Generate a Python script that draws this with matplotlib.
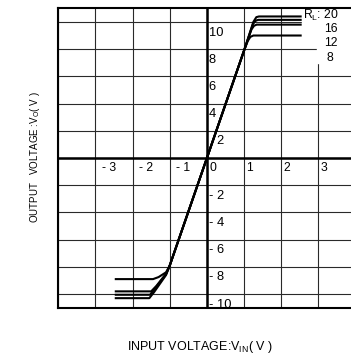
"""Amplifier transfer curve: output voltage vs input voltage for several load resistances."""

import matplotlib
matplotlib.use("Agg")
import matplotlib.pyplot as plt
from matplotlib.patches import Rectangle

plt.rcParams["font.family"] = ["Liberation Sans", "DejaVu Sans"]
plt.rcParams["mathtext.fontset"] = "custom"
plt.rcParams["mathtext.rm"] = "Liberation Sans"

# load resistance labels (ohm) and their transfer curves
RL = ["20", "16", "12", "8"]
VIN_20 = [-2.48, -1.55, -1.42, -1.10, -1.00, 0.0, 1.00, 1.25, 1.33, 1.40, 2.55]
VOUT_20 = [-10.3, -10.3, -9.85, -8.6, -7.9, 0.0, 7.9, 10.0, 10.35, 10.4, 10.4]
VIN_16 = [-2.48, -1.53, -1.40, -1.10, -1.00, 0.0, 1.00, 1.24, 1.32, 1.38, 2.55]
VOUT_16 = [-10.05, -10.05, -9.6, -8.55, -7.9, 0.0, 7.9, 9.85, 10.1, 10.15, 10.15]
VIN_12 = [-2.48, -1.50, -1.36, -1.10, -1.00, 0.0, 1.00, 1.20, 1.27, 1.34, 2.55]
VOUT_12 = [-9.8, -9.8, -9.4, -8.5, -7.9, 0.0, 7.9, 9.45, 9.72, 9.8, 9.8]
VIN_8 = [-2.48, -1.45, -1.30, -1.10, -1.00, 0.0, 1.00, 1.10, 1.17, 1.25, 2.55]
VOUT_8 = [-8.9, -8.9, -8.75, -8.4, -7.9, 0.0, 7.9, 8.6, 8.9, 9.0, 9.0]
CURVES = [(VIN_20, VOUT_20), (VIN_16, VOUT_16), (VIN_12, VOUT_12), (VIN_8, VOUT_8)]

X_TICKS = [-3, -2, -1, 0, 1, 2, 3]
X_LABELS = ["- 3", "- 2", "- 1", "0", "1", "2", "3"]
Y_TICKS = [10, 8, 6, 4, 2, -2, -4, -6, -8, -10]
Y_LABELS = ["10", "8", "6", "4", "2", "- 2", "- 4", "- 6", "- 8", "- 10"]

fig = plt.figure(figsize=(3.51, 3.56), dpi=100)
ax = fig.add_axes([0.166, 0.1357, 0.847, 0.841])
ax.set_xlim(-4, 4)
ax.set_ylim(-11, 11)

ax.set_xticks(range(-4, 5))
ax.set_yticks(range(-10, 11, 2))
ax.tick_params(length=0, labelbottom=False, labelleft=False)
ax.grid(True, color="#2a2a2a", lw=0.8)
ax.set_axisbelow(True)
for s in ["left", "bottom", "top"]:
    ax.spines[s].set_linewidth(1.5)
ax.spines["right"].set_visible(False)

ax.axhline(0, color="black", lw=1.8, zorder=1.5)
ax.axvline(0, color="black", lw=1.8, zorder=1.5)

# blank patch behind the load labels
ax.add_patch(Rectangle((2.57, 8.55), 2.0, 2.4, color="white", zorder=1))
ax.add_patch(Rectangle((2.95, 6.95), 1.6, 1.7, color="white", zorder=1))

for xs, ys in CURVES:
    ax.plot(xs, ys, color="black", lw=1.5, zorder=2, solid_capstyle="butt")

for x, lab in zip(X_TICKS, X_LABELS):
    dx = 0.17 if x < 0 else 0.06
    ax.text(x + dx, -0.72, lab, fontsize=8.7, ha="left", va="center", zorder=3)
for y, lab in zip(Y_TICKS, Y_LABELS):
    dx = 0.26 if y == 2 else 0.05
    ax.text(dx, y - 0.78, lab, fontsize=9.3, ha="left", va="center", zorder=3)

ax.text(2.58, 10.5, r"R$_\mathrm{L}$: " + RL[0], fontsize=8.7, ha="left", va="center", zorder=3)
ax.text(3.15, 9.5, RL[1], fontsize=8.7, ha="left", va="center", zorder=3)
ax.text(3.15, 8.45, RL[2], fontsize=8.7, ha="left", va="center", zorder=3)
ax.text(3.22, 7.37, RL[3], fontsize=8.7, ha="left", va="center", zorder=3)

fig.text(0.101, 0.559, "OUTPUT   VOLTAGE :V$_\\mathrm{O}$( V )", rotation=90,
         fontsize=7.0, ha="center", va="center")
fig.text(0.57, 0.026, "INPUT VOLTAGE:V$_\\mathrm{IN}$( V )", fontsize=9,
         ha="center", va="center")

fig.savefig("out.png", dpi=100)
